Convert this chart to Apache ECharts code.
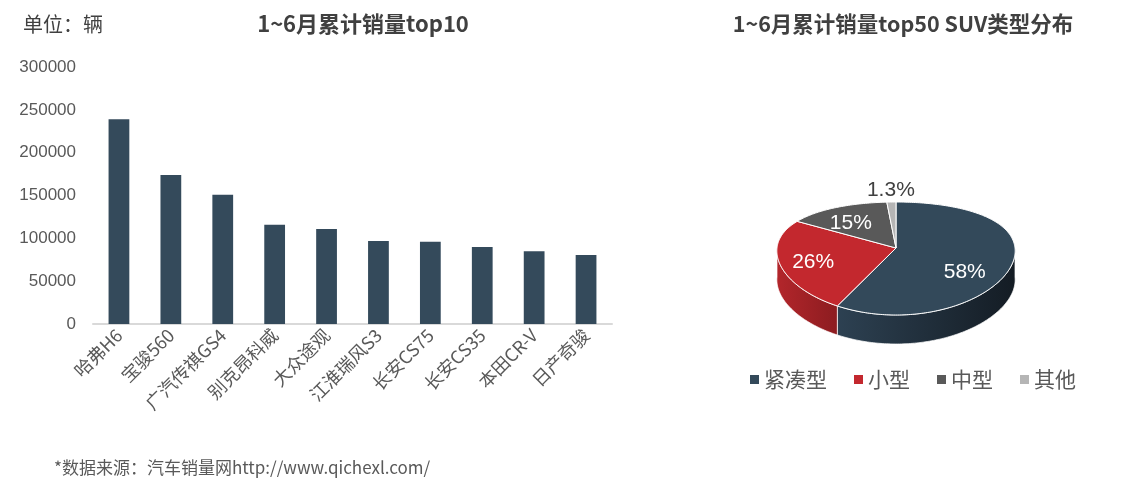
<!DOCTYPE html>
<html><head><meta charset="utf-8">
<script src="https://cdn.jsdelivr.net/npm/echarts@6/dist/echarts.min.js"></script>
<style>html,body{margin:0;padding:0;background:#fff}#c{width:1143px;height:486px}</style>
</head><body><div id="c"></div>
<script>
// ---- data ----
const barCategories = ['哈弗H6','宝骏560','广汽传祺GS4','别克昂科威','大众途观','江淮瑞风S3','长安CS75','长安CS35','本田CR-V','日产奇骏'];
const barValues = [239000, 174000, 151000, 116000, 111000, 97000, 96000, 90000, 85000, 80500];
const yTicks = [0, 50000, 100000, 150000, 200000, 250000, 300000];
const pieNames = ['紧凑型','小型','中型','其他'];
const pieValues = [58, 26, 15, 1.3];
const pieLabels = ['58%','26%','15%','1.3%'];

// ---- styles ----
const CJK = '"Noto Sans CJK SC","Liberation Sans",sans-serif';
const NUM = '"Liberation Sans","Noto Sans CJK SC",sans-serif';
const pieColors = ['#33495a','#c3282e','#595959','#b5b5b5'];
const sideColors = [['#2d4152','#141c24'],['#b3262b','#8c1c20'],['#4a4a4a','#333333'],['#9a9a9a','#808080']];

// pie geometry (pseudo 3D)
const P = {cx: 896, cy: 248, rx: 119, a: 56.5, b: 10.5, depth: 29};
function proj(u, v) { const s = 1 + 0.05 * v; return [P.cx + P.rx * u * s, P.cy + P.a * v + P.b * v * v]; }
function rim(theta, r) { const t = theta * Math.PI / 180; return proj(r * Math.sin(t), -r * Math.cos(t)); }
const pieTotal = pieValues.reduce((s, v) => s + v, 0);
const pieStart = []; { let acc = 0; pieValues.forEach(v => { pieStart.push(acc / pieTotal * 360); acc += v; }); }

function renderSlice(params, api) {
  const i = params.dataIndex;
  const val = api.value(0);
  const s = pieStart[i], e = s + val / pieTotal * 360;
  const children = [];
  const lo = Math.max(s, 90), hi = Math.min(e, 270);
  if (hi > lo) {
    const top = [], bot = [];
    const n = Math.max(2, Math.ceil(hi - lo));
    for (let k = 0; k <= n; k++) { const p = rim(lo + (hi - lo) * k / n, 1); top.push(p); bot.push([p[0], p[1] + P.depth]); }
    children.push({type: 'polygon', shape: {points: top.concat(bot.reverse())},
      style: {fill: {type: 'linear', x: 0, y: 0, x2: 1, y2: 0, colorStops: [{offset: 0, color: sideColors[i][0]}, {offset: 1, color: sideColors[i][1]}]},
        stroke: 'rgba(255,255,255,0.7)', lineWidth: 1}});
  }
  const pts = [proj(0, 0)];
  const n = Math.max(2, Math.ceil(e - s));
  for (let k = 0; k <= n; k++) pts.push(rim(s + (e - s) * k / n, 1));
  children.push({type: 'polygon', shape: {points: pts}, style: {fill: pieColors[i], stroke: '#ffffff', lineWidth: 1}});
  const mid = (s + e) / 2;
  const frac = val / pieTotal;
  let lp, col;
  if (frac < 0.05) { lp = rim(mid, 1.12); lp = [lp[0], lp[1] - 8]; col = '#404040'; }
  else if (frac > 0.5) { lp = rim(mid, 0.6); lp = [lp[0] - 1, lp[1] + 16]; col = '#ffffff'; }
  else { lp = rim(mid, 0.68); lp = [lp[0] - 4, lp[1] + 4]; col = '#ffffff'; }
  children.push({type: 'text', style: {text: pieLabels[i], x: lp[0], y: lp[1], fill: col, font: '21px ' + NUM, align: 'center', verticalAlign: 'middle'}});
  return {type: 'group', children};
}

const chart = echarts.init(document.getElementById('c'));
chart.setOption({
  animation: false,
  backgroundColor: '#ffffff',
  title: [
    {text: '1~6月累计销量top10', left: 358, textAlign: 'center', top: 8, textStyle: {fontFamily: CJK, fontSize: 22, fontWeight: 'bold', color: '#404040'}},
    {text: '1~6月累计销量top50 SUV类型分布', left: 898, textAlign: 'center', top: 8, textStyle: {fontFamily: CJK, fontSize: 21.5, fontWeight: 'bold', color: '#404040'}},
    {text: '单位：辆', left: 18, top: 9, textStyle: {fontFamily: CJK, fontSize: 20, fontWeight: 'normal', color: '#404040'}},
    {text: '*数据来源：汽车销量网http://www.qichexl.com/', left: 49, top: 454, textStyle: {fontFamily: CJK, fontSize: 17, fontWeight: 'normal', color: '#595959'}}
  ],
  legend: {data: pieNames, left: 745, top: 364, icon: 'rect', itemWidth: 9, itemHeight: 9, itemGap: 27,
    textStyle: {fontFamily: CJK, fontSize: 21, color: '#595959'}, selectedMode: false},
  grid: {left: 93, right: 531, top: 67, bottom: 162},
  xAxis: {type: 'category', data: barCategories,
    axisLine: {lineStyle: {color: '#d9d9d9', width: 2}}, axisTick: {show: false},
    axisLabel: {rotate: 45, interval: 0, margin: 8, fontFamily: CJK, fontSize: 18, color: '#595959'}},
  yAxis: {type: 'value', min: yTicks[0], max: yTicks[yTicks.length - 1], interval: yTicks[1] - yTicks[0],
    axisLine: {show: false}, axisTick: {show: false}, splitLine: {show: false},
    axisLabel: {margin: 17, fontFamily: NUM, fontSize: 17, color: '#595959', formatter: v => String(v)}},
  series: [
    {type: 'bar', name: '销量', data: barValues, barWidth: '40%', itemStyle: {color: '#344a5b'}},
    {type: 'custom', name: 'SUV', coordinateSystem: 'none', renderItem: renderSlice,
      data: pieValues.map((v, i) => ({name: pieNames[i], value: [v]}))},
    {type: 'pie', name: 'legend', radius: [0, 0], center: [-100, -100], silent: true,
      label: {show: false}, labelLine: {show: false},
      data: pieValues.map((v, i) => ({name: pieNames[i], value: v, itemStyle: {color: pieColors[i]}}))}
  ]
});
</script></body></html>
